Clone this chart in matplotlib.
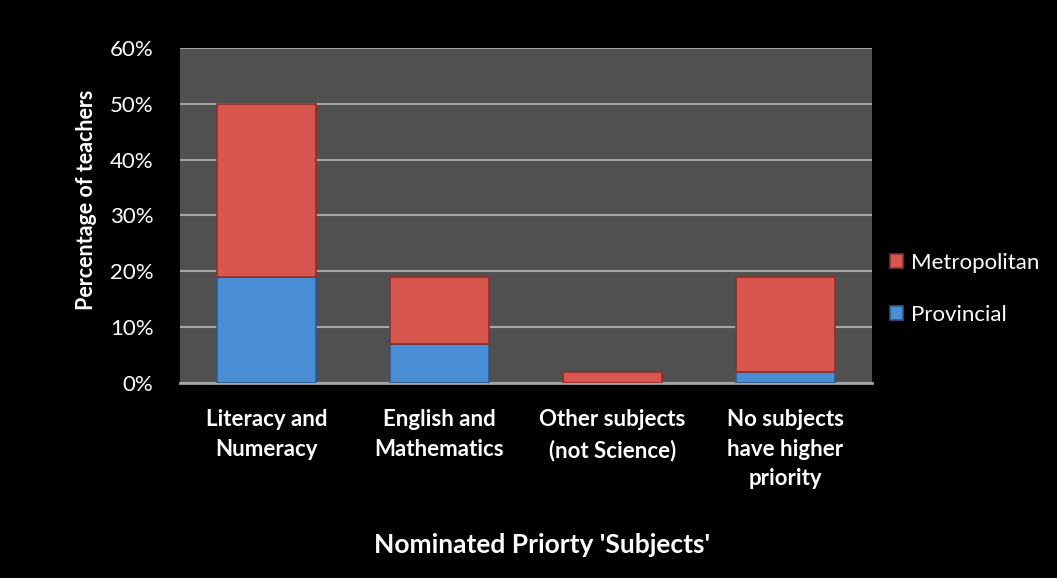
import matplotlib.pyplot as plt
import numpy as np

categories = ["Literacy and\nNumeracy", "English and\nMathematics",
              "Other subjects\n(not Science)", "No subjects\nhave higher\npriority"]
provincial = [19, 7, 0, 2]
metropolitan = [31, 12, 2, 17]
yticks = [0, 10, 20, 30, 40, 50, 60]

plt.rcParams['font.family'] = ['Lato', 'DejaVu Sans']

fig = plt.figure(figsize=(10.57, 5.78), dpi=100, facecolor="black")
ax = fig.add_axes([0.1703, 0.3374, 0.6547, 0.5796])
ax.set_facecolor("#505050")

x = np.arange(len(categories))
w = 0.57
ax.bar(x, provincial, width=w, color="#4a8fd6", edgecolor="#2c5a88", linewidth=1.2,
       label="Provincial", zorder=3)
ax.bar(x, metropolitan, width=w, bottom=provincial, color="#d9564e", edgecolor="#8a302b",
       linewidth=1.2, label="Metropolitan", zorder=3)

ax.set_xlim(-0.5, len(categories) - 0.5)
ax.set_ylim(0, 60)
ax.set_yticks(yticks)
ax.set_yticklabels([f"{t}%" for t in yticks], color="white", fontsize=16)
ax.yaxis.grid(True, color="#a6a6a6", linewidth=1.5, zorder=0)
ax.set_xticks(x)
ax.set_xticklabels(categories, color="white", fontsize=16, fontweight="bold", linespacing=1.5)
ax.tick_params(axis="y", length=0, pad=19)
ax.tick_params(axis="x", length=0, pad=19)
for s in ["top", "right", "left"]:
    ax.spines[s].set_visible(False)
ax.spines["bottom"].set_color("#a6a6a6")
ax.spines["bottom"].set_linewidth(2)

fig.text(0.082, 0.654, "Percentage of teachers", color="white", fontsize=15.5, fontweight="bold",
         rotation=90, ha="center", va="center")
fig.text(0.513, 0.057, "Nominated Priorty 'Subjects'", color="white", fontsize=19,
         fontweight="bold", ha="center", va="center")

handles, labels = ax.get_legend_handles_labels()
leg = fig.legend(handles[::-1], labels[::-1], loc="center left", bbox_to_anchor=(0.823, 0.5),
                 frameon=False, fontsize=16, labelcolor="white", handlelength=0.6,
                 handleheight=0.6, labelspacing=1.45, handletextpad=0.35)

fig.savefig("out.png", dpi=100, facecolor="black")
